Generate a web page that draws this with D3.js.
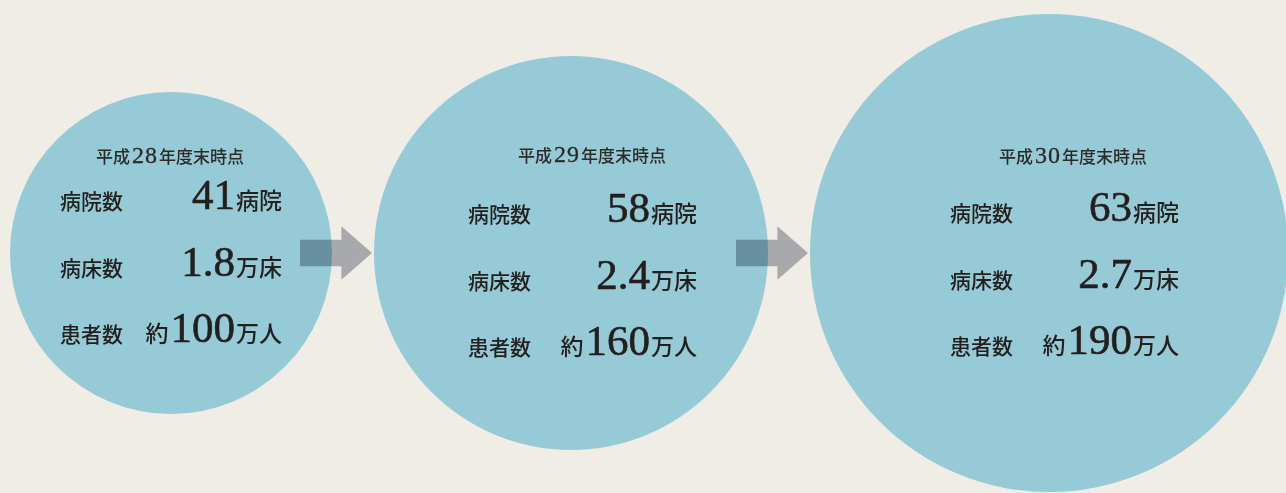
<!DOCTYPE html>
<html lang="ja">
<head>
<meta charset="utf-8">
<script src="https://cdn.jsdelivr.net/npm/d3@7"></script>
<style>
  body { margin: 0; background: #f0ede7; }
  svg { display: block; }
</style>
</head>
<body>
<div id="chart"></div>
<script>
// --------------------------------------------------
// 平成28〜30年度末時点 の推移（バブル図）
// --------------------------------------------------

var width = 1286;
var height = 493;

// data
var eraYears = [28, 29, 30];
var rowLabels = ["病院数", "病床数", "患者数"];
var hospitals = [41, 58, 63];
var beds = [1.8, 2.4, 2.7];
var patients = [100, 160, 190];
var prefixes = ["", "", "約"];
var units = ["病院", "万床", "万人"];

// layout
var radius = d3.scaleOrdinal().domain(eraYears).range([161, 197, 239]);
var firstLeft = 10;
var gap = 42;
var centerY = 253;
var labelDx = [-111, -103, -99];
var valueDx = [111, 126, 130];
var titleDx = [-1, 21, 24];
var titleY = [163, 162, 163];
var rowTop = [209, 222, 221];
var rowStep = 66.5;

var sansFont = "'Noto Sans CJK JP', 'Noto Sans', sans-serif";
var serifFont = "'Liberation Serif', 'DejaVu Serif', serif";
var ink = "#231f1f";

var circles = [];
var left = firstLeft;
eraYears.forEach(function(y, i) {
  var r = radius(y);
  circles.push({
    year: y,
    r: r,
    cx: left + r,
    values: [hospitals[i], beds[i], patients[i]],
    i: i
  });
  left = left + 2 * r + gap;
});

var svg = d3.select("#chart")
  .append("svg")
  .attr("width", width)
  .attr("height", height);

svg.append("rect")
  .attr("width", width)
  .attr("height", height)
  .attr("fill", "#f0ede7");

svg.selectAll(".bubble")
  .data(circles)
  .enter()
  .append("circle")
  .attr("class", "bubble")
  .attr("cx", function(d) { return d.cx; })
  .attr("cy", centerY)
  .attr("r", function(d) { return d.r; })
  .attr("fill", "#95cad6");

// arrows between circles
var arrows = d3.pairs(circles).map(function(p) {
  return { x0: p[0].cx + p[0].r - 32, x1: p[1].cx - p[1].r - 2 };
});

svg.selectAll(".arrow")
  .data(arrows)
  .enter()
  .append("path")
  .attr("class", "arrow")
  .attr("d", function(d) {
    var p = d3.path();
    var headLen = 30.6;
    var xb = d.x1 - headLen;
    p.moveTo(d.x0, centerY - 13.3);
    p.lineTo(xb, centerY - 13.3);
    p.lineTo(xb, centerY - 26.7);
    p.lineTo(d.x1, centerY);
    p.lineTo(xb, centerY + 26.7);
    p.lineTo(xb, centerY + 13.3);
    p.lineTo(d.x0, centerY + 13.3);
    p.closePath();
    return p.toString();
  })
  .attr("fill", "rgb(179,182,191)")
  .style("mix-blend-mode", "multiply");

var groups = svg.selectAll(".info")
  .data(circles)
  .enter()
  .append("g")
  .attr("class", "info")
  .attr("fill", ink);

// title
var title = groups.append("text")
  .attr("x", function(d) { return d.cx + titleDx[d.i]; })
  .attr("y", function(d) { return titleY[d.i]; })
  .attr("text-anchor", "middle")
  .attr("fill", "#2e2a2a");

title.append("tspan")
  .style("font-family", sansFont)
  .style("font-size", "17px")
  .style("font-weight", 500)
  .text("平成");

title.append("tspan")
  .attr("dx", 2)
  .style("font-family", serifFont)
  .style("font-size", "24px")
  .style("letter-spacing", "1px")
  .attr("stroke", "#2e2a2a")
  .attr("stroke-width", 0.3)
  .text(function(d) { return d.year; });

title.append("tspan")
  .attr("dx", 1)
  .style("font-family", sansFont)
  .style("font-size", "17px")
  .style("font-weight", 500)
  .text("年度末時点");

// rows
groups.each(function(d) {
  var g = d3.select(this);

  rowLabels.forEach(function(label, k) {
    var y = rowTop[d.i] + k * rowStep;

    g.append("text")
      .attr("x", d.cx + labelDx[d.i])
      .attr("y", y)
      .style("font-family", sansFont)
      .style("font-size", "21px")
      .style("font-weight", 500)
      .text(label);

    var t = g.append("text")
      .attr("x", d.cx + valueDx[d.i])
      .attr("y", y)
      .attr("text-anchor", "end");

    if (prefixes[k] !== "") {
      t.append("tspan")
        .style("font-family", sansFont)
        .style("font-size", "23px")
        .style("font-weight", 500)
        .text(prefixes[k]);
    }

    t.append("tspan")
      .attr("dx", prefixes[k] !== "" ? 2 : 0)
      .style("font-family", serifFont)
      .style("font-size", "43px")
      .attr("stroke", ink)
      .attr("stroke-width", 0.6)
      .text(d.values[k]);

    t.append("tspan")
      .attr("dx", 1)
      .style("font-family", sansFont)
      .style("font-size", "23px")
      .style("font-weight", 500)
      .text(units[k]);
  });
});
</script>
</body>
</html>
